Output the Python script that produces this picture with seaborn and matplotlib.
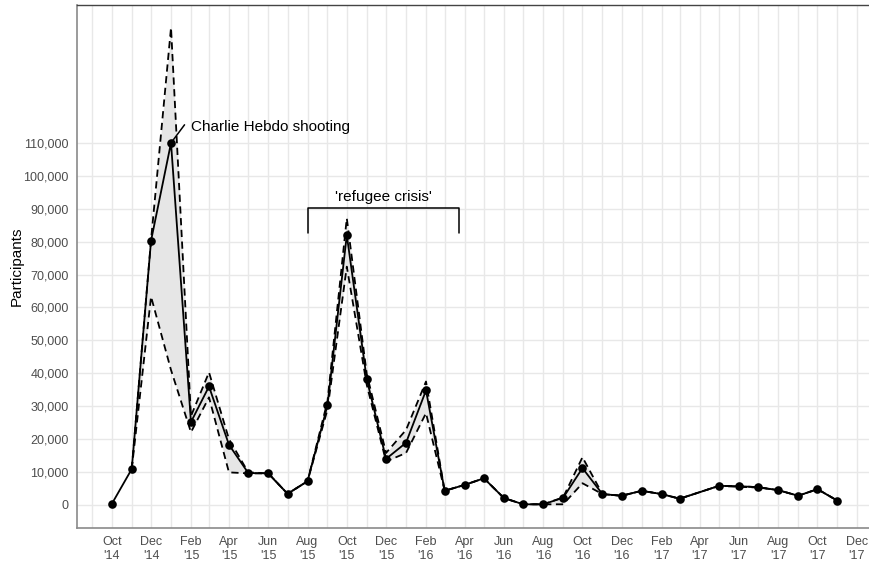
import numpy as np
import pandas as pd
import matplotlib
matplotlib.use("Agg")
import matplotlib.pyplot as plt
import matplotlib.dates as mdates
import matplotlib.ticker as mticker
import seaborn as sns

months = ["2014-10-01", "2014-11-01", "2014-12-01",
          "2015-01-01", "2015-02-01", "2015-03-01", "2015-04-01", "2015-05-01", "2015-06-01",
          "2015-07-01", "2015-08-01", "2015-09-01", "2015-10-01", "2015-11-01", "2015-12-01",
          "2016-01-01", "2016-02-01", "2016-03-01", "2016-04-01", "2016-05-01", "2016-06-01",
          "2016-07-01", "2016-08-01", "2016-09-01", "2016-10-01", "2016-11-01", "2016-12-01",
          "2017-01-01", "2017-02-01", "2017-03-01", "2017-05-01", "2017-06-01",
          "2017-07-01", "2017-08-01", "2017-09-01", "2017-10-01", "2017-11-01"]

participants = [300, 10900, 80300,
                110000, 25200, 36000, 18300, 9700, 9600,
                3400, 7200, 30300, 82000, 38200, 14000,
                18900, 34800, 4300, 6100, 8100, 2100,
                200, 200, 2200, 11200, 3300, 2800,
                4300, 3300, 1900, 5800, 5700,
                5400, 4500, 2800, 4800, 1300]

upper = [np.nan, 10900, 80500,
         145000, 27000, 40300, 20000, 9900, 9600,
         3400, 7200, 31500, 87100, 39800, 15800,
         22800, 37500, 4300, 6100, 8100, 2100,
         200, 200, 2300, 14500, 3300, 2800,
         4300, 3300, 1900, 5800, 5700,
         5400, 4500, 2800, 4800, 1300]

lower = [np.nan, 10900, 63300,
         41000, 22100, 32700, 9900, 9600, 9600,
         3400, 7200, 29000, 72400, 36500, 13200,
         15800, 27900, 4300, 6100, 8100, 2100,
         200, 200, 200, 6600, 3300, 2800,
         4300, 3300, 1900, 5800, 5500,
         5300, 4500, 2800, 4800, 1300]

y_ticks = list(range(0, 110001, 10000))

df = pd.DataFrame({"date": pd.to_datetime(months), "participants": participants,
                   "upper": upper, "lower": lower})

sns.set_style("white")
plt.rcParams['font.family'] = ['Liberation Sans', 'DejaVu Sans']

fig = plt.figure(figsize=(8.69, 5.61), dpi=100)
ax = fig.add_axes([77/869, 33/561, 792/869, 523/561])

# ribbon
ax.fill_between(df["date"], df["lower"], df["upper"], color="#e6e6e6", linewidth=0, zorder=1)

sns.lineplot(data=df, x="date", y="upper", ax=ax, color="black", linewidth=1.3,
             linestyle=(0, (4, 2.5)), zorder=3)
sns.lineplot(data=df, x="date", y="lower", ax=ax, color="black", linewidth=1.3,
             linestyle=(0, (4, 2.5)), zorder=3)
sns.lineplot(data=df, x="date", y="participants", ax=ax, color="black", linewidth=1.3,
             marker="o", markersize=6.2, markeredgewidth=0, zorder=4)

# annotations
ax.plot(pd.to_datetime(["2015-01-01", "2015-01-22"]), [110000, 115500], color="black", lw=1.1, zorder=5)
ax.text(pd.Timestamp("2015-02-01"), 114900, "Charlie Hebdo shooting", fontsize=11,
        ha="left", va="center", color="black")

bx = pd.to_datetime(["2015-08-01", "2015-08-01", "2016-03-24", "2016-03-24"])
ax.plot(bx, [82700, 90300, 90300, 82700], color="black", lw=1.1, zorder=5)
ax.text(pd.Timestamp("2015-11-27"), 93700, "'refugee crisis'", fontsize=11,
        ha="center", va="center", color="black")

# axes
ax.set_xlim(pd.Timestamp("2014-08-08"), pd.Timestamp("2017-12-20"))
ax.set_ylim(-7000, 151900)
ax.set_yticks(y_ticks)
ax.yaxis.set_major_formatter(mticker.FuncFormatter(lambda v, p: f"{int(v):,}"))
ax.xaxis.set_major_locator(mdates.MonthLocator(bymonth=[2, 4, 6, 8, 10, 12]))
ax.xaxis.set_minor_locator(mdates.MonthLocator())
ax.xaxis.set_major_formatter(mticker.FuncFormatter(
    lambda v, p: mdates.num2date(v).strftime("%b\n'%y")))

ax.grid(True, which="both", axis="x", color="#e8e8e8", linewidth=1.0, zorder=0)
ax.grid(True, which="major", axis="y", color="#e8e8e8", linewidth=1.0, zorder=0)
ax.set_axisbelow(True)

ax.tick_params(axis="both", which="major", length=4, width=1, color="#555555",
               labelsize=9, labelcolor="#4d4d4d", pad=2)
ax.tick_params(axis="x", which="minor", length=0)

ax.set_xlabel("")
ax.set_ylabel("Participants", fontsize=11, color="black", labelpad=0)

for s in ["left", "bottom"]:
    ax.spines[s].set_color("#8a8a8a")
    ax.spines[s].set_linewidth(1.2)
ax.spines["top"].set_color("#444444")
ax.spines["top"].set_linewidth(1.0)
ax.spines["right"].set_visible(False)

fig.savefig("out.png", dpi=100)
